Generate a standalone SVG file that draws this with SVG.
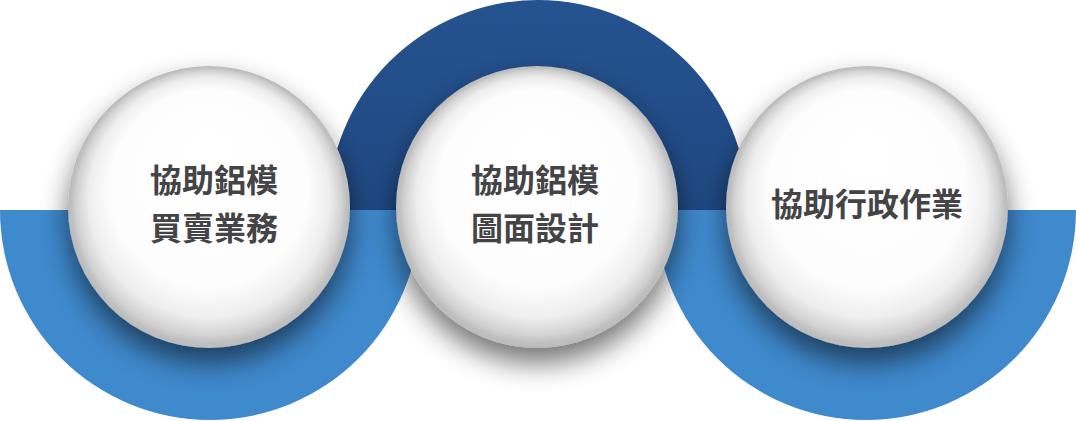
<svg xmlns="http://www.w3.org/2000/svg" width="1076" height="421" viewBox="0 0 1076 421">
<defs>
<style>
.lbl{font-family:"Noto Sans CJK TC","Noto Sans CJK SC",sans-serif;font-weight:700;font-size:32px;fill:#444446;text-anchor:middle}
.ball{fill:url(#ball);filter:url(#shadow)}
</style>
<radialGradient id="ball" cx="50%" cy="50%" r="50%" fx="50%" fy="28%">
<stop offset="0" stop-color="#ffffff"/>
<stop offset="0.7" stop-color="#fdfdfd"/>
<stop offset="0.85" stop-color="#eeeeee"/>
<stop offset="0.94" stop-color="#d2d2d2"/>
<stop offset="0.975" stop-color="#c0c0c0"/>
<stop offset="1" stop-color="#bbbbbb"/>
</radialGradient>
<linearGradient id="dark" x1="0" y1="0" x2="0" y2="1">
<stop offset="0" stop-color="#25538f"/>
<stop offset="1" stop-color="#1f4781"/>
</linearGradient>
<filter id="shadow" x="-30%" y="-30%" width="160%" height="175%">
<feGaussianBlur in="SourceAlpha" stdDeviation="14"/>
<feOffset dy="15"/>
<feComponentTransfer><feFuncA type="linear" slope="0.55"/></feComponentTransfer>
<feMerge><feMergeNode/><feMergeNode in="SourceGraphic"/></feMerge>
</filter>
</defs>
<g id="rings">
<path d="M0,210 A210,210 0 0 0 420,210 Z" fill="#3f89cd"/>
<path d="M328,210 A210,210 0 0 1 748,210 Z" fill="url(#dark)"/>
<path d="M656,210 A210,210 0 0 0 1076,210 Z" fill="#3f89cd"/>
</g>
<g id="node-left">
<circle class="ball" cx="209" cy="207" r="141"/>
<text class="lbl" x="214" y="192">協助鋁模</text>
<text class="lbl" x="214" y="240">買賣業務</text>
</g>
<g id="node-middle">
<circle class="ball" cx="537" cy="207" r="141"/>
<text class="lbl" x="535" y="192">協助鋁模</text>
<text class="lbl" x="535" y="240">圖面設計</text>
</g>
<g id="node-right">
<circle class="ball" cx="867" cy="207" r="141"/>
<text class="lbl" x="867" y="216">協助行政作業</text>
</g>
</svg>
